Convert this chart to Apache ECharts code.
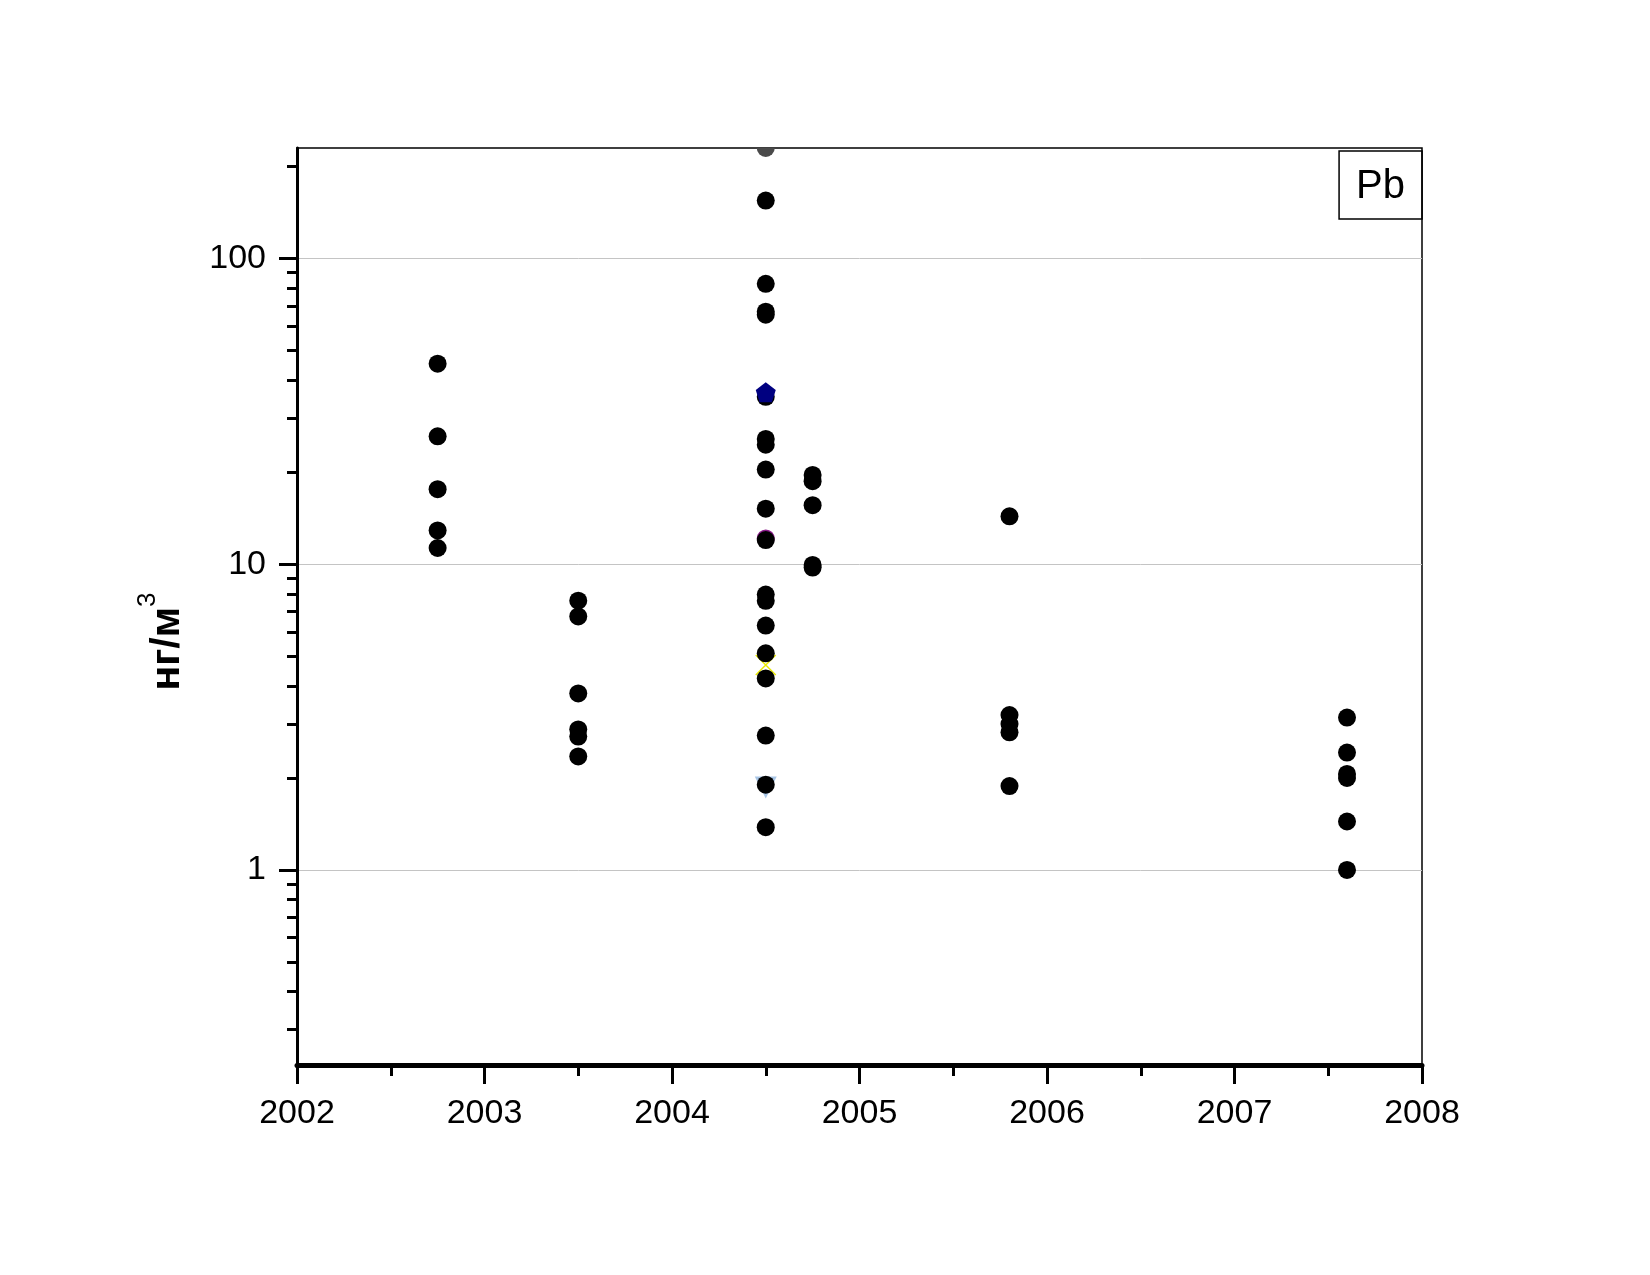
<!DOCTYPE html>
<html>
<head>
<meta charset="utf-8">
<script src="https://cdn.jsdelivr.net/npm/echarts@6/dist/echarts.min.js"></script>
<style>
html,body{margin:0;padding:0;background:#fff;}
#chart{width:1650px;height:1275px;}
</style>
</head>
<body>
<div id="chart"></div>
<script>
// ---- data ----
const yearTicks = [2002, 2003, 2004, 2005, 2006, 2007, 2008];
const yMajorTicks = [1, 10, 100];
const yMinorTicks = [0.3, 0.4, 0.5, 0.6, 0.7, 0.8, 0.9, 2, 3, 4, 5, 6, 7, 8, 9, 20, 30, 40, 50, 60, 70, 80, 90, 200];

const x2002 = 2002.75;
const v2002 = [45.3, 26.2, 17.6, 12.9, 11.3];
const x2003 = 2003.5;
const v2003 = [7.6, 6.75, 3.78, 2.88, 2.73, 2.35];
const x2004a = 2004.5;
const v2004a = [154.8, 82.7, 67, 65.5, 35.3, 25.7, 24.6, 20.4, 15.2, 12.0, 7.96, 7.59, 6.3, 5.11, 4.23, 2.75, 1.9, 1.38];
const x2004b = 2004.75;
const v2004b = [19.6, 18.7, 15.6, 9.95, 9.75];
const x2005 = 2005.8;
const v2005 = [14.35, 3.21, 3.0, 2.82, 1.88];
const x2007 = 2007.6;
const v2007 = [3.15, 2.42, 2.06, 2.0, 1.44, 1.0];

// other (mostly hidden) markers at 2004.5
const grayTop = [230];
const purpleVals = [12.15];
const yellowVals = [4.68];
const blueTriVals = [1.86];
const navyPentVals = [36.5];

const FONT = "'Liberation Sans', Arial, sans-serif";

function pts(x, arr) { return arr.map(v => [x, v]); }
const blackData = [].concat(
  pts(x2002, v2002), pts(x2003, v2003), pts(x2004a, v2004a),
  pts(x2004b, v2004b), pts(x2005, v2005), pts(x2007, v2007)
);

const chart = echarts.init(document.getElementById('chart'), null, {renderer: 'canvas'});
const option = {
  backgroundColor: '#ffffff',
  animation: false,
  title: {
    text: 'Pb',
    right: 228,
    top: 151,
    padding: [16, 17, 12, 17],
    borderColor: '#000',
    borderWidth: 1.5,
    textStyle: {fontFamily: FONT, fontSize: 40, fontWeight: 'normal', color: '#000'}
  },
  grid: {
    left: 297, right: 228, top: 148, bottom: 210,
    containLabel: false,
    outerBoundsMode: 'none',
    show: true,
    borderColor: '#000',
    borderWidth: 1.5,
    backgroundColor: 'transparent'
  },
  xAxis: {
    type: 'value',
    min: 2002, max: 2008, interval: 1,
    axisLine: {show: true, onZero: false, lineStyle: {color: '#000', width: 5}},
    axisTick: {show: true, length: 19, lineStyle: {color: '#000', width: 3}},
    minorTick: {show: true, splitNumber: 2, length: 11, lineStyle: {color: '#000', width: 3}},
    splitLine: {show: false},
    axisLabel: {
      fontFamily: FONT, fontSize: 34, color: '#000', margin: 32,
      customValues: yearTicks,
      formatter: v => String(Math.round(v))
    }
  },
  yAxis: [
    {
      type: 'log', logBase: 10, min: 0.23, max: 230,
      position: 'left',
      name: '{a|нг/м}{b|3}',
      nameLocation: 'middle',
      nameGap: 96,
      nameRotate: 90,
      nameTextStyle: {
        fontFamily: FONT, fontSize: 41, fontWeight: 'bold', color: '#000',
        padding: [0, 70, 0, 0],
        rich: {
          a: {fontFamily: FONT, fontSize: 41, fontWeight: 'bold', color: '#000', lineHeight: 66, verticalAlign: 'middle'},
          b: {fontFamily: FONT, fontSize: 26, fontWeight: 'normal', color: '#000', lineHeight: 24, verticalAlign: 'top'}
        }
      },
      axisLine: {show: true, onZero: false, lineStyle: {color: '#000', width: 3}},
      axisTick: {show: true, length: 18, customValues: yMajorTicks, lineStyle: {color: '#000', width: 3}},
      axisLabel: {
        fontFamily: FONT, fontSize: 34, color: '#000', margin: 31,
        customValues: yMajorTicks,
        formatter: v => String(v)
      },
      splitLine: {show: true, lineStyle: {color: '#c4c4c4', width: 1}}
    },
    {
      type: 'log', logBase: 10, min: 0.23, max: 230,
      position: 'left',
      axisLine: {show: false},
      axisTick: {show: true, length: 10, customValues: yMinorTicks, lineStyle: {color: '#000', width: 3}},
      axisLabel: {show: false},
      splitLine: {show: false}
    }
  ],
  series: [
    {
      type: 'scatter', yAxisIndex: 0, clip: false,
      symbol: 'path://M0,0A10,10,0,0,0,20,0Z', symbolSize: [18, 9], symbolOffset: [0, '50%'],
      itemStyle: {color: '#4a4a4a', opacity: 1},
      data: pts(x2004a, grayTop)
    },
    {
      type: 'scatter', yAxisIndex: 0, symbol: 'circle', symbolSize: 18,
      itemStyle: {color: '#8a1a8a', opacity: 1},
      data: pts(x2004a, purpleVals)
    },
    {
      type: 'scatter', yAxisIndex: 0, symbol: 'triangle', symbolRotate: 180, symbolSize: 22,
      itemStyle: {color: '#a9c6e6', opacity: 1},
      data: pts(x2004a, blueTriVals)
    },
    {
      type: 'scatter', yAxisIndex: 0, symbol: 'path://M0,0L10,10M10,0L0,10', symbolSize: 20,
      itemStyle: {color: 'none', borderColor: '#e8e800', borderWidth: 1.5, opacity: 1},
      data: pts(x2004a, yellowVals)
    },
    {
      type: 'scatter', yAxisIndex: 0, symbol: 'circle', symbolSize: 18,
      itemStyle: {color: '#000', opacity: 1},
      data: blackData
    },
    {
      type: 'scatter', yAxisIndex: 0, symbol: 'path://M50,0L100,38L81,100L19,100L0,38Z', symbolSize: 20,
      itemStyle: {color: '#000080', opacity: 1},
      data: pts(x2004a, navyPentVals)
    }
  ]
};
chart.setOption(option);
</script>
</body>
</html>
